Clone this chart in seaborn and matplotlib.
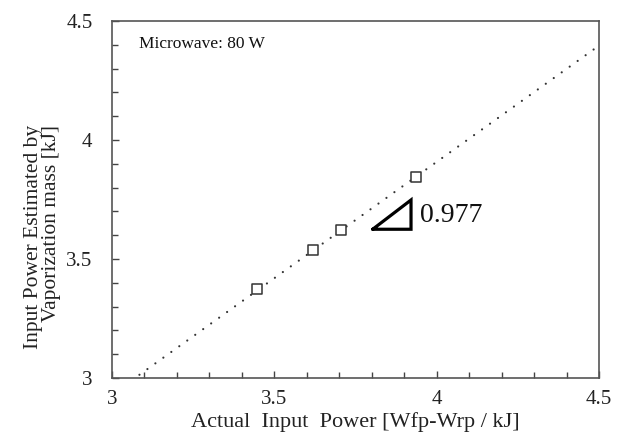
import numpy as np
import pandas as pd
import matplotlib
matplotlib.use("Agg")
import matplotlib.pyplot as plt
import seaborn as sns
from matplotlib.ticker import MultipleLocator, FixedLocator

# ---- data ----
actual_power = [3.447, 3.620, 3.704, 3.937]
estimated_power = [3.373, 3.538, 3.622, 3.846]
fit_slope = 0.977
fit_x_range = [3.06, 4.5]
x_ticks = [3, 3.5, 4, 4.5]
y_ticks = [3, 3.5, 4, 4.5]
x_tick_labels = ["3", "3.5", "4", "4.5"]
y_tick_labels = ["3", "3.5", "4", "4.5"]
slope_triangle_x = [3.803, 3.921, 3.921, 3.803]
slope_triangle_y = [3.625, 3.748, 3.625, 3.625]
slope_label = "0.977"
condition_label = "Microwave: 80 W"
x_label = "Actual  Input  Power [Wfp-Wrp / kJ]"
y_label = "Input Power Estimated by\nVaporization mass [kJ]"

sns.set_theme(style="white")
plt.rcParams["font.family"] = ["Liberation Serif", "DejaVu Serif"]

fig = plt.figure(figsize=(6.25, 4.43), dpi=100)
ax = fig.add_axes([112 / 625, 65 / 443, 487 / 625, 357 / 443])

df = pd.DataFrame({"actual": actual_power, "estimated": estimated_power})
fit_x = np.array(fit_x_range)
fit_df = pd.DataFrame({"x": fit_x, "y": fit_slope * fit_x})

line_color = "#333333"
sns.lineplot(data=fit_df, x="x", y="y", ax=ax, color=line_color,
             linewidth=1.6, linestyle=(0, (0.01, 4.4)),
             dash_capstyle="round", zorder=2)
sns.scatterplot(data=df, x="actual", y="estimated", ax=ax, marker="s",
                s=48, facecolor="white", edgecolor="#333333",
                linewidth=1.1, zorder=3)

ax.plot(slope_triangle_x, slope_triangle_y, color="black", linewidth=2.3,
        solid_joinstyle="miter", zorder=4)
ax.text(3.948, 3.655, slope_label, fontsize=20, color="#111111",
        ha="left", va="baseline")
ax.text(0.055, 0.924, condition_label, transform=ax.transAxes,
        fontsize=12.5, color="#111111", ha="left", va="baseline")

ax.set_xlim(3, 4.5)
ax.set_ylim(3, 4.5)
ax.xaxis.set_major_locator(FixedLocator(x_ticks))
ax.yaxis.set_major_locator(FixedLocator(y_ticks))
ax.set_xticklabels(x_tick_labels)
ax.set_yticklabels(y_tick_labels)
ax.xaxis.set_minor_locator(MultipleLocator(0.1))
ax.yaxis.set_minor_locator(MultipleLocator(0.1))

ax.tick_params(axis="both", which="both", direction="in", bottom=True,
               left=True, top=False, right=False, color="#444444",
               width=1.0)
ax.tick_params(axis="both", which="major", length=5, labelsize=15,
               labelcolor="#222222")
ax.tick_params(axis="both", which="minor", length=4)
ax.tick_params(axis="x", which="major", pad=9)
ax.tick_params(axis="y", which="major", pad=14)

for sp in ax.spines.values():
    sp.set_visible(True)
    sp.set_color("#555555")
    sp.set_linewidth(1.2)

ax.set_xlabel(x_label, fontsize=16, color="#222222")
ax.set_ylabel(y_label, fontsize=15.5, color="#222222", linespacing=0.95,
              multialignment="right")
ax.xaxis.set_label_coords(0.5, -0.0966)
ax.yaxis.set_label_coords(-0.105, 0.395)

fig.savefig("out.png", dpi=100)
